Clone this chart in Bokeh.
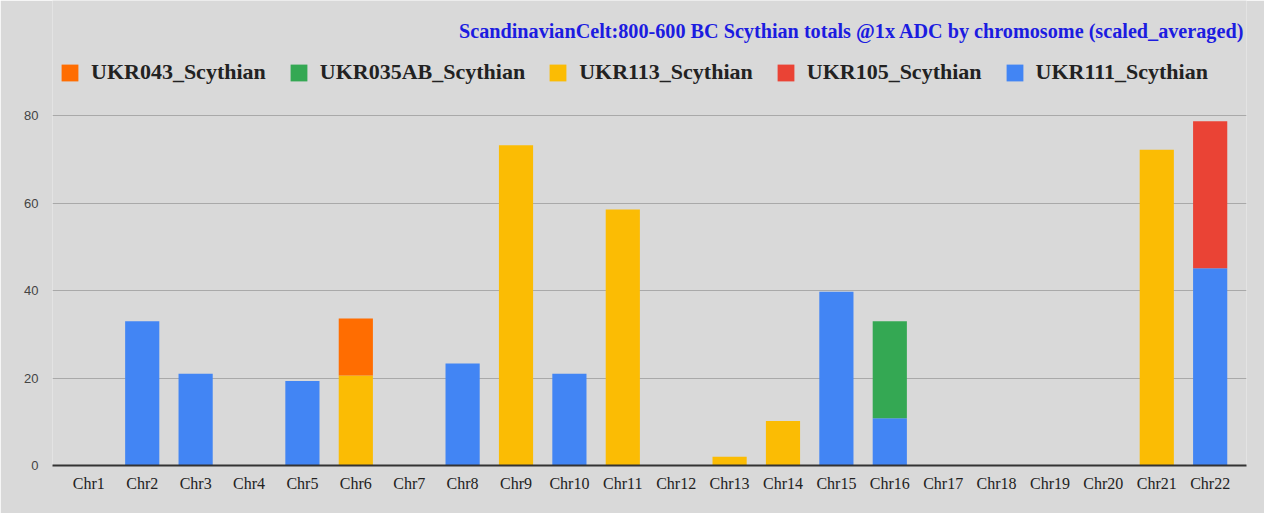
from bokeh.plotting import figure
from bokeh.models import (
    FactorRange,
    Range1d,
    FixedTicker,
    Legend,
    LegendItem,
    Label,
)
from bokeh.embed import file_html
from bokeh.resources import INLINE

# --- data ---
chromosomes = ["Chr%d" % i for i in range(1, 23)]

ukr111 = [0, 33.0, 21.0, 0, 19.3, 0, 0, 23.3, 0, 21.0, 0, 0, 0, 0, 39.7, 10.8, 0, 0, 0, 0, 0, 45.1]
ukr105 = [0, 0, 0, 0, 0, 0, 0, 0, 0, 0, 0, 0, 0, 0, 0, 0, 0, 0, 0, 0, 0, 33.6]
ukr113 = [0, 0, 0, 0, 0, 20.6, 0, 0, 73.2, 0, 58.5, 0, 2.0, 10.2, 0, 0, 0, 0, 0, 0, 72.2, 0]
ukr035ab = [0, 0, 0, 0, 0, 0, 0, 0, 0, 0, 0, 0, 0, 0, 0, 22.2, 0, 0, 0, 0, 0, 0]
ukr043 = [0, 0, 0, 0, 0, 13.0, 0, 0, 0, 0, 0, 0, 0, 0, 0, 0, 0, 0, 0, 0, 0, 0]

# bottom -> top stacking order
series_names = ["UKR111_Scythian", "UKR105_Scythian", "UKR113_Scythian", "UKR035AB_Scythian", "UKR043_Scythian"]
series_values = [ukr111, ukr105, ukr113, ukr035ab, ukr043]
series_colors = ["#4285f4", "#ea4335", "#fbbc04", "#34a853", "#ff6d01"]

y_ticks = [0, 20, 40, 60, 80]
title_text = "ScandinavianCelt:800-600 BC Scythian totals @1x ADC by chromosome (scaled_averaged)"

bg = "#d9d9d9"

# frame is 465px tall, 80 units = 350px
frame_h = 465
px_per_unit = 350 / 80.0
y_top = frame_h / px_per_unit

p = figure(
    width=1264,
    height=513,
    x_range=FactorRange(factors=chromosomes, range_padding=0.0164),
    y_range=Range1d(0, y_top),
    output_backend="svg",
    toolbar_location=None,
    background_fill_color=bg,
    border_fill_color=bg,
    outline_line_color=None,
    min_border_left=52,
    min_border_right=18,
    min_border_top=0,
    min_border_bottom=48,
)

data = {"chr": chromosomes}
for name, vals in zip(series_names, series_values):
    data[name] = vals

renderers = p.vbar_stack(
    series_names,
    x="chr",
    width=0.64,
    color=series_colors,
    line_color=None,
    source=data,
)

# legend: reversed order, horizontal, inside the top of the frame
items = [LegendItem(label=n, renderers=[r]) for n, r in zip(series_names, renderers)][::-1]
legend = Legend(
    items=items,
    orientation="horizontal",
    location=(7, 380),
    background_fill_alpha=0,
    border_line_color=None,
    padding=0,
    margin=0,
    spacing=22,
    glyph_width=21,
    glyph_height=21,
    label_height=21,
    label_standoff=11,
    label_text_font="Liberation Serif",
    label_text_font_style="bold",
    label_text_font_size="22px",
    label_text_color="#222222",
)
p.add_layout(legend)

p.add_layout(
    Label(
        x=22.18,
        y=frame_h / px_per_unit - (38 - 8) / px_per_unit,
        text=title_text,
        text_align="right",
        text_baseline="middle",
        text_font="Liberation Serif",
        text_font_style="bold",
        text_font_size="20.2px",
        text_color="#1c1ce0",
        x_offset=-2,
    )
)

# grid / axes
p.xgrid.grid_line_color = None
p.ygrid.ticker = FixedTicker(ticks=y_ticks)
p.ygrid.grid_line_color = "#a9a9a9"
p.ygrid.grid_line_width = 1

p.yaxis.ticker = FixedTicker(ticks=y_ticks)
p.yaxis.axis_line_color = None
p.yaxis.major_tick_line_color = None
p.yaxis.minor_tick_line_color = None
p.yaxis.major_label_text_font = "Liberation Sans"
p.yaxis.major_label_text_font_size = "13px"
p.yaxis.major_label_text_color = "#444444"
p.yaxis.major_label_standoff = 8

p.xaxis.axis_line_color = "#333333"
p.xaxis.axis_line_width = 2
p.xaxis.major_tick_line_color = None
p.xaxis.minor_tick_line_color = None
p.xaxis.major_label_text_font = "Liberation Serif"
p.xaxis.major_label_text_font_size = "16px"
p.xaxis.major_label_text_color = "#222222"
p.xaxis.major_label_standoff = 3

open("out.html", "w").write(file_html(p, INLINE))
